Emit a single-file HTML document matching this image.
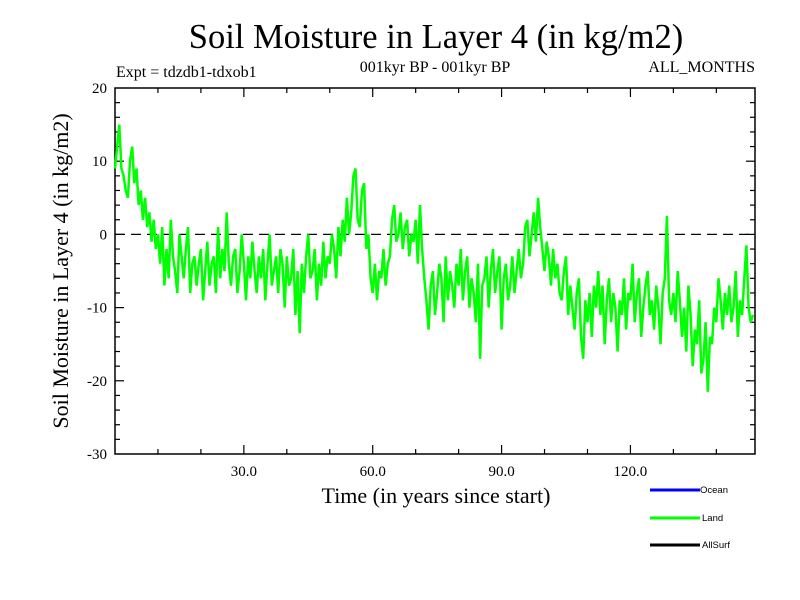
<!DOCTYPE html>
<html><head><meta charset="utf-8"><style>
body{margin:0;background:#fff;}
svg{display:block;font-family:"Liberation Serif",serif;}
</style></head><body>
<svg id="chart" width="800" height="600">
<text x="436" y="48" font-size="34.5" text-anchor="middle">Soil Moisture in Layer 4 (in kg/m2)</text>
<text x="116" y="77" font-size="16">Expt = tdzdb1-tdxob1</text>
<text x="435" y="72" font-size="16" text-anchor="middle">001kyr BP - 001kyr BP</text>
<text x="755" y="72" font-size="16" text-anchor="end">ALL_MONTHS</text>
<text transform="translate(68,271) rotate(-90)" font-size="22" text-anchor="middle">Soil Moisture in Layer 4 (in kg/m2)</text>
<text x="436" y="503" font-size="22" text-anchor="middle">Time (in years since start)</text>
<g id="axes"></g>
<g id="series"></g>
<g>
<line x1="650" y1="490" x2="700" y2="490" stroke="#0000ff" stroke-width="3"/>
<text x="700" y="493" font-family="Liberation Sans,sans-serif" font-size="9.5">Ocean</text>
<line x1="650" y1="518" x2="700" y2="518" stroke="#00ff00" stroke-width="3"/>
<text x="702" y="521" font-family="Liberation Sans,sans-serif" font-size="9.5">Land</text>
<line x1="650" y1="545" x2="700" y2="545" stroke="#000" stroke-width="3"/>
<text x="702" y="548" font-family="Liberation Sans,sans-serif" font-size="9.5">AllSurf</text>
</g>
</svg>
<script>
const xTicks = [30, 60, 90, 120];
const xTickLabels = ["30.0", "60.0", "90.0", "120.0"];
const yTicks = [20, 10, 0, -10, -20, -30];
const yTickLabels = ["20", "10", "0", "-10", "-20", "-30"];
const landValues = [
9,12,15,9,8,6,5,10,12,7,9,4,6,2,5,1,3,-1,2,-2,
0,-4,1,-7,-2,-6,2,-3,-5,-8,0,-3,-6,-2,1,-8,-4,-3,-7,-4,
-2,-9,-5,-1,-7,-4,-3,-8,1,-6,-2,-5,3,-4,-7,-3,-2,-8,-5,0,
-4,-9,-3,-6,-1,-5,-8,-3,-6,-2,-9,-4,0,-7,-5,-3,-8,-2,-4,-10,
-3,-7,-6,-2,-11,-5,-13.5,-4,-8,-3,0,-6,-5,-2,-9,-4,-7,-1,-6,-3,
-4,0,-2,-6,1,-3,2,-1,5,0,3,8,9,2,1,6,7,-2,0,-6,
-8,-4,-9,-5,-6,-2,-7,-4,-3,2,4,-1,0,3,-2,1,2,-3,0,-1,
2,-4,4,-2,-6,-9,-13,-7,-5,-11,-8,-4,-6,-12,-3,-9,-5,-7,-10,-4,
-7,-2,-9,-5,-3,-10,-6,-8,-12,-4,-17,-7,-6,-3,-10,-5,-2,-8,-5,-3,
-13,-6,-4,-9,-7,-3,-8,-5,-2,-6,-4,1,2,-3,0,3,-1,5,1,-2,
-5,-1,-3,-7,-2,-6,-4,-8,-9,-5,-3,-11,-7,-10,-13,-8,-6,-14,-17,-9,
-12,-8,-14,-7,-10,-5,-11,-7,-15,-9,-6,-12,-8,-10,-16,-9,-11,-6,-13,-8,
-9,-4,-12,-8,-6,-14,-10,-7,-5,-11,-9,-13,-7,-10,-15,-8,-6,2.5,-9,-11,
-8,-12,-5,-9,-14,-10,-16,-7,-11,-18,-13,-15,-9,-19,-17,-12,-21.5,-14,-15,-10,
-12,-6,-9,-13,-8,-11,-7,-12,-10,-5,-14,-9,-11,-6,-1.5,-10,-12,-11
];
const yearStep = 0.5;
const NS = "http://www.w3.org/2000/svg";
const L = 115, R = 755, T = 88, B = 454;
const xMin = 0, xMax = 149, yMin = -30, yMax = 20;
function sx(v){ return L + (v - xMin) / (xMax - xMin) * (R - L); }
function sy(v){ return B - (v - yMin) / (yMax - yMin) * (B - T); }
function mk(tag, attrs, parent){ const e = document.createElementNS(NS, tag); for (const k in attrs) e.setAttribute(k, attrs[k]); parent.appendChild(e); return e; }
const axes = document.getElementById('axes');
const frame = mk('rect', {x:L, y:T, width:R-L, height:B-T, fill:'none', stroke:'#000', 'stroke-width':1.5}, axes);


for (let v = 10; v < xMax; v += 10) {
  const major = xTicks.includes(v);
  const len = major ? 9 : 5;
  const t1 = mk('line', {x1:sx(v), y1:B, x2:sx(v), y2:B-len, stroke:'#000', 'stroke-width':1.2}, axes);
  
  
  const t2 = mk('line', {x1:sx(v), y1:T, x2:sx(v), y2:T+len, stroke:'#000', 'stroke-width':1.2}, axes);
  
  
}
xTicks.forEach((v, i) => {
  const t = mk('text', {x:sx(v), y:B+22, 'font-size':15, 'text-anchor':'middle'}, axes);
  t.textContent = xTickLabels[i];
  
  
});
for (let v = yMin + 2; v < yMax; v += 2) {
  const major = v % 10 === 0;
  const len = major ? 9 : 5;
  const t1 = mk('line', {x1:L, y1:sy(v), x2:L+len, y2:sy(v), stroke:'#000', 'stroke-width':1.2}, axes);
  
  
  const t2 = mk('line', {x1:R, y1:sy(v), x2:R-len, y2:sy(v), stroke:'#000', 'stroke-width':1.2}, axes);
  
  
}
yTicks.forEach((v, i) => {
  const t = mk('text', {x:L-8, y:sy(v)+5, 'font-size':15, 'text-anchor':'end'}, axes);
  t.textContent = yTickLabels[i];
  
  
});
const zero = mk('line', {x1:L, y1:sy(0), x2:R, y2:sy(0), stroke:'#000', 'stroke-width':1.3, 'stroke-dasharray':'10,6'}, axes);


const series = document.getElementById('series');
const pts = landValues.map((v, i) => sx(i * yearStep).toFixed(1) + ',' + sy(v).toFixed(1)).join(' ');
const pl = mk('polyline', {points:pts, fill:'none', stroke:'#00ff00', 'stroke-width':2.5, 'stroke-linejoin':'miter'}, series);


</script>
</body></html>
